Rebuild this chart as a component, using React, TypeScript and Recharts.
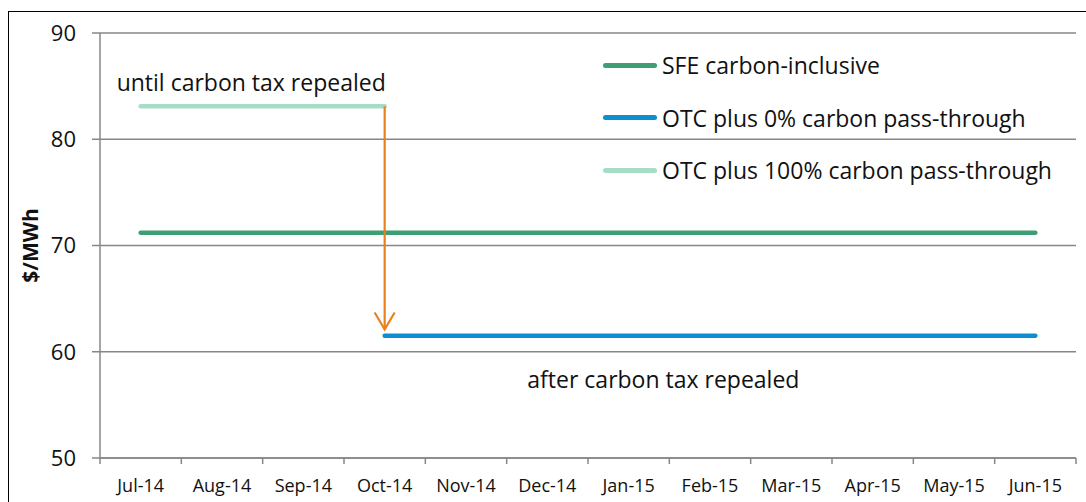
import React from 'react';
import {
  ComposedChart,
  Line,
  XAxis,
  YAxis,
  CartesianGrid,
  ReferenceLine,
  ReferenceDot,
  Legend,
  Label,
} from 'recharts';

// ---------- data ----------
const months = ['Jul-14', 'Aug-14', 'Sep-14', 'Oct-14', 'Nov-14', 'Dec-14', 'Jan-15', 'Feb-15', 'Mar-15', 'Apr-15', 'May-15', 'Jun-15'];
const sfeCarbonInclusive = [71.2, 71.2, 71.2, 71.2, 71.2, 71.2, 71.2, 71.2, 71.2, 71.2, 71.2, 71.2];
const otcZeroPass = [null, null, null, 61.5, 61.5, 61.5, 61.5, 61.5, 61.5, 61.5, 61.5, 61.5];
const otcFullPass = [83.1, 83.1, 83.1, 83.1, null, null, null, null, null, null, null, null];
const yTicks = [50, 60, 70, 80, 90];
const seriesNames = ['SFE carbon-inclusive', 'OTC plus 0% carbon pass-through', 'OTC plus 100% carbon pass-through'];
const arrowFrom = { x: 'Oct-14', y: 83.1 };
const arrowTo = { x: 'Oct-14', y: 62.1 };
const annotations = [
  { text: 'until carbon tax repealed', x: 'Jul-14', y: 83.1 },
  { text: 'after carbon tax repealed', x: 'Dec-14', y: 61.5 },
];

// ---------- styles ----------
const FONT = '"Open Sans", sans-serif';
const GRID = '#878787';
const COLORS = ['#3F9E73', '#0B8FD0', '#A7DDC6'];
const ORANGE = '#E8801E';

const W = 1077;
const H = 490;
const MARGIN = { top: 21, right: 10, left: 0, bottom: 0 };
const Y_W = 91;
const X_H = 44;
const STEP = (W - MARGIN.left - MARGIN.right - Y_W) / months.length;

const data = months.map((m, i) => ({
  month: m,
  sfe: sfeCarbonInclusive[i],
  otc0: otcZeroPass[i],
  otc100: otcFullPass[i],
}));

const XTick = (props: any) => {
  const { x, y, payload, index } = props;
  const half = STEP / 2;
  return (
    <g>
      <line x1={x - half} x2={x - half} y1={y} y2={y + 6} stroke={GRID} strokeWidth={1.5} />
      {index === months.length - 1 && (
        <line x1={x + half} x2={x + half} y1={y} y2={y + 6} stroke={GRID} strokeWidth={1.5} />
      )}
      <text x={x} y={y + 34} textAnchor="middle" fontFamily={FONT} fontSize={18} fill="#111">
        {payload.value}
      </text>
    </g>
  );
};

const ArrowShape = (props: any) => {
  const { x1, y1, x2, y2 } = props;
  const tipY = Math.max(y1, y2);
  const topY = Math.min(y1, y2);
  return (
    <g>
      <line x1={x1} x2={x2} y1={topY} y2={tipY} stroke={ORANGE} strokeWidth={2.2} />
      <polyline
        points={`${x1 - 10},${tipY - 17} ${x1},${tipY} ${x1 + 10},${tipY - 17}`}
        fill="none"
        stroke={ORANGE}
        strokeWidth={2.2}
      />
    </g>
  );
};

const makeAnno = (text: string, dx: number, dy: number) => (props: any) => {
  const vb = props.viewBox || {};
  const cx = (vb.cx ?? ((vb.x ?? 0) + (vb.width ?? 0) / 2));
  const cy = (vb.cy ?? ((vb.y ?? 0) + (vb.height ?? 0) / 2));
  return (
    <text x={cx + dx} y={cy + dy} fontFamily={FONT} fontSize={23} fill="#111">
      {text}
    </text>
  );
};

const annoOffsets = [
  { dx: -24, dy: -15 },
  { dx: -20, dy: 52 },
];

const LegendContent = () => (
  <div style={{ fontFamily: FONT, fontSize: 23, color: '#111' }}>
    {seriesNames.map((name, i) => (
      <div key={name} style={{ display: 'flex', alignItems: 'center', height: 52.5, whiteSpace: 'nowrap' }}>
        <span
          style={{
            display: 'inline-block',
            width: 54,
            height: 5,
            borderRadius: 3,
            background: COLORS[i],
            marginRight: 5,
          }}
        />
        <span style={{ lineHeight: '26px' }}>{name}</span>
      </div>
    ))}
  </div>
);

export default function App() {
  return (
    <>
      <style>{`body{margin:0;overflow:hidden;}`}</style>
      <div
        style={{
          position: 'absolute',
          left: 8,
          top: 11,
          width: 1078,
          height: 491,
          boxSizing: 'border-box',
          borderTop: '1px solid #000',
          borderLeft: '1px solid #000',
          background: '#fff',
        }}
      >
        <ComposedChart width={W} height={H} data={data} margin={MARGIN}>
          <CartesianGrid vertical={false} stroke={GRID} strokeWidth={1.5} />
          <XAxis
            dataKey="month"
            type="category"
            scale="band"
            height={X_H}
            interval={0}
            tickSize={0}
            tickMargin={0}
            tickLine={false}
            axisLine={{ stroke: GRID, strokeWidth: 1.5 }}
            tick={<XTick />}
          />
          <YAxis
            width={Y_W}
            domain={[50, 90]}
            ticks={yTicks}
            interval={0}
            tickSize={8}
            tickMargin={16}
            axisLine={{ stroke: GRID, strokeWidth: 1.5 }}
            tickLine={{ stroke: GRID, strokeWidth: 1.5 }}
            tick={{ fontFamily: FONT, fontSize: 22, fill: '#111' }}
          >
            <Label
              content={(p: any) => {
                const vb = p.viewBox || {};
                const cx = (vb.x ?? 0) + 21;
                const cy = (vb.y ?? 0) + (vb.height ?? 0) / 2;
                return (
                  <text
                    x={cx}
                    y={cy}
                    transform={`rotate(-90 ${cx} ${cy})`}
                    textAnchor="middle"
                    dominantBaseline="central"
                    fontFamily={FONT}
                    fontWeight="bold"
                    fontSize={21}
                    fill="#111"
                  >
                    $/MWh
                  </text>
                );
              }}
            />
          </YAxis>
          <Legend
            layout="vertical"
            align="center"
            verticalAlign="middle"
            content={<LegendContent />}
            wrapperStyle={{ left: 594, top: 27, width: 480, height: 160 }}
          />
          <Line
            dataKey="sfe"
            name={seriesNames[0]}
            stroke={COLORS[0]}
            strokeWidth={4.5}
            strokeLinecap="round"
            dot={false}
            activeDot={false}
            isAnimationActive={false}
          />
          <Line
            dataKey="otc0"
            name={seriesNames[1]}
            stroke={COLORS[1]}
            strokeWidth={4.5}
            strokeLinecap="round"
            dot={false}
            activeDot={false}
            isAnimationActive={false}
          />
          <Line
            dataKey="otc100"
            name={seriesNames[2]}
            stroke={COLORS[2]}
            strokeWidth={4.5}
            strokeLinecap="round"
            dot={false}
            activeDot={false}
            isAnimationActive={false}
          />
          <ReferenceLine segment={[arrowFrom, arrowTo]} shape={<ArrowShape />} />
          {annotations.map((a, i) => (
            <ReferenceDot
              key={a.text}
              x={a.x}
              y={a.y}
              r={1}
              fill="none"
              stroke="none"
              ifOverflow="visible"
              label={makeAnno(a.text, annoOffsets[i].dx, annoOffsets[i].dy)}
            />
          ))}
        </ComposedChart>
      </div>
    </>
  );
}
